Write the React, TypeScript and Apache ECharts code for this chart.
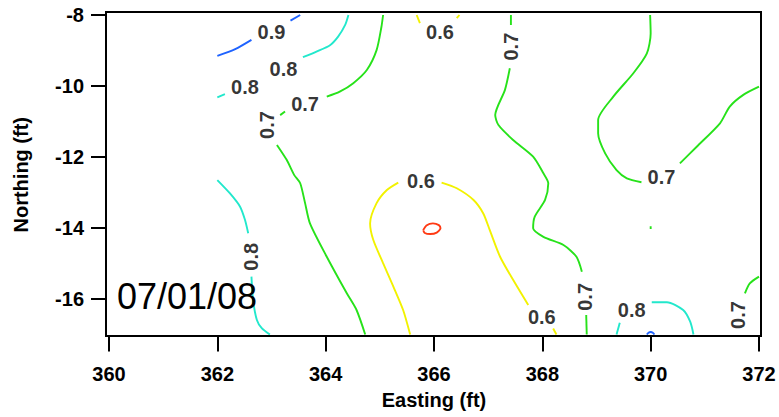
import React, { useEffect, useRef } from "react";
import * as echarts from "echarts";

// ---- data ----
const xTicks = [360, 362, 364, 366, 368, 370, 372];
const yTicks = [-16, -14, -12, -10, -8];
const dateText = "07/01/08";

// contour traces [easting, northing], broken where labels sit
const c09a = [[362.0, -9.15], [362.33, -8.96], [362.63, -8.7]];
const c09b = [[363.35, -8.16], [363.53, -8.0]];
const c09c = [[369.93, -17.0], [369.96, -16.95], [370.0, -16.93], [370.04, -16.95], [370.07, -17.0]];

const c08a = [[364.42, -8.0], [364.36, -8.28], [364.23, -8.61], [364.08, -8.85], [363.83, -9.03], [363.58, -9.19]];
const c08b = [[362.14, -10.23], [362.0, -10.32]];
const c08c = [[362.0, -12.65], [362.23, -13.02], [362.42, -13.4], [362.51, -13.77], [362.57, -14.15]];
const c08d = [[362.63, -15.37], [362.66, -16.03], [362.73, -16.59], [362.82, -16.82], [362.97, -17.0]];
const c08e = [[369.37, -17.0], [369.43, -16.67]];
const c08f = [[370.02, -16.09], [370.3, -16.09], [370.6, -16.31], [370.73, -16.64], [370.79, -17.0]];

const c07a = [[365.06, -8.0], [365.03, -8.33], [364.94, -8.99], [364.76, -9.55], [364.51, -9.92], [364.26, -10.16], [364.02, -10.3]];
const c07b = [[363.25, -10.72], [363.16, -10.82]];
const c07c = [[363.1, -11.66], [363.28, -12.08], [363.42, -12.51], [363.53, -12.74], [363.62, -13.3], [363.71, -13.87], [364.02, -14.81], [364.39, -15.84], [364.57, -16.31], [364.73, -17.0]];
const c07d = [[367.42, -8.0], [367.42, -8.28]];
const c07e = [[367.4, -9.5], [367.31, -10.11], [367.13, -10.82], [367.19, -11.1], [367.46, -11.52], [367.83, -11.99], [368.02, -12.46], [368.11, -12.74], [368.05, -13.21], [367.86, -13.68], [367.83, -14.01], [368.02, -14.25], [368.39, -14.48], [368.63, -14.81], [368.73, -15.23]];
const c07f = [[368.81, -16.45], [368.82, -17.0]];
const c07g = [[369.99, -8.0], [370.0, -8.52], [369.93, -9.08], [369.68, -9.64], [369.31, -10.3], [369.03, -10.96], [369.03, -11.33], [369.16, -11.9], [369.37, -12.37], [369.56, -12.6], [369.83, -12.71]];
const c07h = [[370.54, -12.18], [370.85, -11.71], [371.28, -11.05], [371.46, -10.58], [371.71, -10.25], [372.0, -10.02]];
const c07i = [[370.0, -13.95], [370.0, -14.03]];
const c07j = [[372.0, -15.37], [371.83, -15.56], [371.74, -15.84]];

const c06a = [[365.68, -8.0], [365.74, -8.23]];
const c06b = [[366.42, -8.09], [366.47, -8.0]];
const c06c = [[365.34, -12.72], [365.13, -12.93], [364.94, -13.3], [364.82, -13.87], [364.88, -14.34], [365.06, -14.99], [365.25, -15.65], [365.43, -16.31], [365.56, -17.0]];
const c06d = [[366.14, -12.72], [366.42, -12.88], [366.73, -13.21], [366.91, -13.59], [367.03, -14.06], [367.22, -14.81], [367.46, -15.46], [367.74, -16.17]];
const c06e = [[368.2, -16.83], [368.26, -17.0]];

const c05a = [[365.8, -14.06], [365.86, -13.93], [365.98, -13.87], [366.09, -13.92], [366.12, -14.01], [366.05, -14.13], [365.93, -14.17], [365.83, -14.14], [365.8, -14.06]];

const segmentLevels = [0.9, 0.9, 0.9, 0.8, 0.8, 0.8, 0.8, 0.8, 0.8, 0.7, 0.7, 0.7, 0.7, 0.7, 0.7, 0.7, 0.7, 0.7, 0.7, 0.6, 0.6, 0.6, 0.6, 0.6, 0.5];
const segmentTraces = [c09a, c09b, c09c, c08a, c08b, c08c, c08d, c08e, c08f, c07a, c07b, c07c, c07d, c07e, c07f, c07g, c07h, c07i, c07j, c06a, c06b, c06c, c06d, c06e, c05a];

// contour labels
const labelValues = [0.9, 0.8, 0.8, 0.7, 0.7, 0.6, 0.7, 0.6, 0.7, 0.8, 0.7, 0.6, 0.8, 0.7];
const labelEast = [363.0, 363.22, 362.51, 363.62, 362.91, 366.11, 367.42, 365.76, 370.2, 362.63, 368.79, 367.99, 369.65, 371.62];
const labelNorth = [-8.47, -9.53, -10.04, -10.51, -11.1, -8.49, -8.89, -12.68, -12.55, -14.81, -15.94, -16.5, -16.31, -16.45];
const labelVertical = [false, false, false, false, true, false, true, false, false, true, true, false, false, true];

// ---- styles ----
const levelColor: Record<string, string> = {
  "0.5": "#ff3a14",
  "0.6": "#f2f200",
  "0.7": "#27e21a",
  "0.8": "#22e8cc",
  "0.9": "#1f63ff",
};
const FONT = "'Liberation Sans', Arial, sans-serif";

export default function App() {
  const ref = useRef<HTMLDivElement>(null);
  useEffect(() => {
    if (!ref.current) return;
    const chart = echarts.init(ref.current, undefined, { renderer: "svg" });

    const lineSeries = segmentTraces.map((pts, i) => ({
      type: "line",
      data: pts,
      showSymbol: false,
      symbol: "none",
      smooth: 0.25,
      silent: true,
      lineStyle: { color: levelColor[String(segmentLevels[i])], width: 1.9 },
      z: 2,
    }));

    const labelSeries = {
      type: "scatter",
      symbolSize: 0,
      silent: true,
      z: 5,
      data: labelValues.map((v, i) => ({
        value: [labelEast[i], labelNorth[i], v],
        label: { rotate: labelVertical[i] ? 90 : 0 },
      })),
      label: {
        show: true,
        position: "inside",
        formatter: (p: any) => p.value[2].toFixed(1),
        color: "#000",
        textBorderWidth: 0,
        fontFamily: FONT,
        fontWeight: "bold",
        fontSize: 20,
      },
    };

    chart.setOption({
      animation: false,
      grid: { left: 109, right: 20, top: 15, bottom: 82.5, containLabel: false },
      xAxis: {
        type: "value",
        min: xTicks[0],
        max: xTicks[xTicks.length - 1],
        interval: 2,
        offset: 2,
        name: "Easting (ft)",
        nameLocation: "middle",
        nameGap: 53,
        nameTextStyle: { fontFamily: FONT, fontWeight: "bold", fontSize: 20, color: "#000" },
        axisLine: { show: false },
        axisTick: { show: true, length: 15, lineStyle: { color: "#000", width: 2 } },
        axisLabel: { margin: 27, fontFamily: FONT, fontWeight: "bold", fontSize: 20, color: "#000" },
        splitLine: { show: false },
      },
      yAxis: {
        type: "value",
        min: -17,
        max: -8,
        offset: 3,
        name: "Northing (ft)",
        nameLocation: "middle",
        nameGap: 75,
        nameTextStyle: { fontFamily: FONT, fontWeight: "bold", fontSize: 20, color: "#000" },
        axisLine: { show: false },
        axisTick: { show: true, length: 15, customValues: yTicks, lineStyle: { color: "#000", width: 2 } },
        axisLabel: { margin: 22, customValues: yTicks, fontFamily: FONT, fontWeight: "bold", fontSize: 20, color: "#000" },
        splitLine: { show: false },
      },
      graphic: [
        {
          type: "rect",
          shape: { x: 106, y: 12, width: 655, height: 324 },
          style: { fill: "none", stroke: "#000", lineWidth: 2 },
          silent: true,
          z: 10,
        },
        {
          type: "text",
          x: 117,
          y: 296,
          style: {
            text: dateText,
            fontFamily: FONT,
            fontSize: 36,
            fill: "#000",
            textAlign: "left",
            textVerticalAlign: "middle",
          },
          z: 11,
        },
      ],
      series: [...lineSeries, labelSeries],
    });
    return () => chart.dispose();
  }, []);
  return <div ref={ref} style={{ width: 779, height: 417, position: "absolute", left: 0, top: 0 }} />;
}
